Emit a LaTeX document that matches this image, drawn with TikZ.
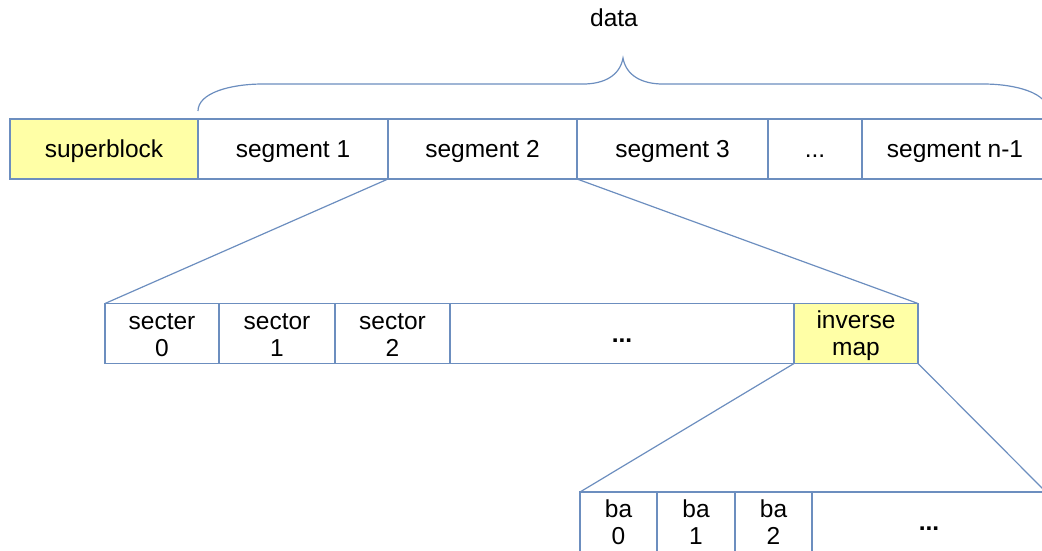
\documentclass[tikz,border=0pt]{standalone}
\usepackage{fontspec}
\setmainfont{Liberation Sans}
\definecolor{edge}{HTML}{6C8EBF}
\definecolor{hilite}{HTML}{FFFFA6}
\begin{document}
\begin{tikzpicture}[x=1pt,y=-1pt,
  cell/.style={draw=edge,line width=1.4pt,rectangle,inner sep=0pt,outer sep=0pt,
    minimum height=60pt,align=center,
    font=\fontsize{24.5}{27}\selectfont},
  oneline/.style={text height=17pt,text depth=0pt},
  twoline/.style={font=\fontsize{24.5}{27}\selectfont,align=center,yshift=-2pt},
  yellowcell/.style={fill=hilite},
  bolddots/.style={font=\fontsize{24.5}{27}\selectfont\bfseries,oneline},
  link/.style={draw=edge,line width=1.2pt}]
\useasboundingbox (0,0) rectangle (1042,550);
\clip (0,0) rectangle (1042,550);

% top row: superblock followed by the segments
\node[cell,oneline,yellowcell,minimum width=188pt] (sb) at (104,149) {superblock};
\node[cell,oneline,minimum width=190pt] (seg1)  at (293,149)   {segment 1};
\node[cell,oneline,minimum width=189pt] (seg2)  at (482.5,149) {segment 2};
\node[cell,oneline,minimum width=191pt] (seg3)  at (672.5,149) {segment 3};
\node[cell,oneline,minimum width=94pt]  (tdots) at (815,149)   {...};
\node[cell,oneline,minimum width=186pt] (segn)  at (955,149)   {segment n-1};

% brace over the data segments
\node[font=\fontsize{24.5}{27}\selectfont] (data) at (614,18) {data};
\draw[link] (198,111) .. controls (198,93) and (230,84) .. (263,84)
  -- (583,84) .. controls (605,84) and (620,75) .. (623,58)
  .. controls (626,75) and (641,84) .. (663,84)
  -- (983,84) .. controls (1016,84) and (1048,93) .. (1048,111);

% middle row: contents of one segment
\begin{scope}[every node/.append style={minimum height=59pt}]
\node[cell,minimum width=114pt] (s0) at (162,333.5)   {};
\node[cell,minimum width=116pt] (s1) at (277,333.5)   {};
\node[cell,minimum width=115pt] (s2) at (392.5,333.5) {};
\node[cell,minimum width=344pt] (mdots) at (622,333.5) {};
\node[cell,yellowcell,minimum width=124pt] (inv) at (856,333.5) {};
\end{scope}
\node[twoline] (s0t) at (s0) {secter\\0};
\node[twoline] (s1t) at (s1) {sector\\1};
\node[twoline] (s2t) at (s2) {sector\\2};
\node[bolddots] (mdotst) at (mdots) {...};
\node[twoline] (invt) at (inv) {inverse\\map};

% bottom row: contents of the inverse map
\node[cell,minimum width=77pt] (ba0) at (618.5,522) {ba\\0};
\node[cell,minimum width=78pt] (ba1) at (696,522)   {ba\\1};
\node[cell,minimum width=77pt] (ba2) at (773.5,522) {ba\\2};
\node[cell,minimum width=234pt] (bdots) at (929,522) {};
\node[bolddots] (bdotst) at (bdots) {...};

% zoom lines
\draw[link] (seg2.south west) -- (s0.north west);
\draw[link] (seg2.south east) -- (inv.north east);
\draw[link] (inv.south west) -- (ba0.north west);
\draw[link] (inv.south east) -- (bdots.north east);
\end{tikzpicture}
\end{document}
